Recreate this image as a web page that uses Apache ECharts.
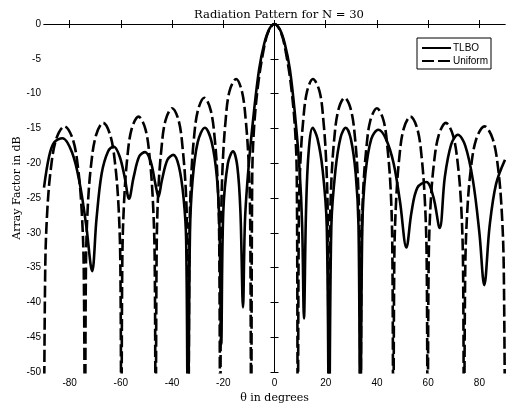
<!DOCTYPE html>
<html>
<head>
<meta charset="utf-8">
<title>Radiation Pattern for N = 30</title>
<script src="https://cdn.jsdelivr.net/npm/echarts@6/dist/echarts.min.js"></script>
<style>
  html, body { margin: 0; padding: 0; background: #fff; }
  #main { width: 506px; height: 409px; }
</style>
</head>
<body>
<div id="main"></div>
<script>
// tick labels on the theta axis
var xTicks = [-80, -60, -40, -20, 0, 20, 40, 60, 80];

// uniform array (dashed); -60 = null below the axis
var uniformTheta = [
  -90, -89.5, -88.7, -87.3, -85.2, -82, -78.8, -76.7, -75.3, -74.5,
  -74, -73.6, -72.9, -71.6, -69.7, -66.9, -64.1, -62.2, -60.9, -60.2,
  -59.8, -59.4, -58.7, -57.5, -55.8, -53.1, -50.4, -48.7, -47.5, -46.8,
  -46.4, -46.0, -45.4, -44.2, -42.6, -40.0, -37.4, -35.8, -34.6, -34.0,
  -33.6, -33.2, -32.6, -31.5, -29.9, -27.4, -24.9, -23.3, -22.2, -21.6,
  -21.2, -20.8, -20.2, -19.1, -17.6, -15, -12.7, -11.2, -10.1, -9.5,
  -9.1, -8.7, -8.0, -6.5, -4.5, -2.5, 0, 2.5, 4.5, 6.5, 8.0, 8.7,
  9.1, 9.5, 10.1, 11.2, 12.7, 15, 17.6, 19.1, 20.2, 20.8,
  21.2, 21.6, 22.2, 23.3, 24.9, 27.4, 29.9, 31.5, 32.6, 33.2,
  33.6, 34.0, 34.6, 35.8, 37.4, 40.0, 42.6, 44.2, 45.4, 46.0,
  46.4, 46.8, 47.5, 48.7, 50.4, 53.1, 55.8, 57.5, 58.7, 59.4,
  59.8, 60.2, 60.9, 62.2, 64.1, 66.9, 69.7, 71.6, 72.9, 73.6,
  74, 74.5, 75.3, 76.7, 78.8, 82, 85.2, 87.3, 88.7, 89.5, 90
];
var uniformDb = [
  -60, -34.7, -26.7, -20.7, -16.5, -14.7, -16.5, -20.7, -26.7, -34.7,
  -60, -34.2, -26.2, -20.2, -16, -14.2, -16, -20.2, -26.2, -34.2,
  -60, -33.3, -25.3, -19.3, -15.1, -13.3, -15.1, -19.3, -25.3, -33.3,
  -60, -32.1, -24.1, -18.1, -13.9, -12.1, -13.9, -18.1, -24.1, -32.1,
  -60, -30.6, -22.6, -16.6, -12.4, -10.6, -12.4, -16.6, -22.6, -30.6,
  -60, -27.9, -19.9, -13.9, -9.7, -7.9, -9.7, -13.9, -19.9, -27.9,
  -60, -22, -15, -9, -4.2, -1.2, 0, -1.2, -4.2, -9, -15, -22,
  -60, -27.9, -19.9, -13.9, -9.7, -7.9, -9.7, -13.9, -19.9, -27.9,
  -60, -30.6, -22.6, -16.6, -12.4, -10.6, -12.4, -16.6, -22.6, -30.6,
  -60, -32.1, -24.1, -18.1, -13.9, -12.1, -13.9, -18.1, -24.1, -32.1,
  -60, -33.3, -25.3, -19.3, -15.1, -13.3, -15.1, -19.3, -25.3, -33.3,
  -60, -34.2, -26.2, -20.2, -16, -14.2, -16, -20.2, -26.2, -34.2,
  -60, -34.7, -26.7, -20.7, -16.5, -14.7, -16.5, -20.7, -26.7, -34.7, -60
];

// TLBO optimised array (solid)
var tlboTheta = [
  -90, -88, -86, -82.8, -79, -76, -73.5, -71.2, -69.5, -67.5,
  -65, -62.8, -60.5, -58.5, -56.8, -55, -52.8, -50.5, -48.3, -46.5,
  -45.3, -44, -41.8, -39.5, -37.3, -35.5, -34.5, -33.8, -33, -32,
  -30, -27.2, -24.5, -22.5, -21.5, -20.8, -20, -18.2, -16.2, -14.5,
  -13.3, -12.3, -11.5, -10, -8, -6, -4, -2, 0, 2,
  4, 6, 8, 9.8, 10.8, 11.5, 12.3, 13.3, 14.9, 16.8,
  18.8, 20.4, 21.3, 22.2, 23.8, 25.8, 27.8, 29.8, 31.7, 32.8,
  33.5, 34.3, 35.5, 37.8, 40.5, 43.5, 46.5, 49, 51.5, 53.5,
  55.8, 59.3, 62, 64.5, 66.5, 69, 71.6, 74.5, 77.5, 80,
  81.9, 84, 86.5, 90
];
var tlboDb = [
  -23.5, -19, -17, -16.4, -18.5, -23, -29, -35.5, -28, -21.5,
  -18.3, -17.6, -19, -22, -25.1, -22, -19, -18.4, -19.8, -23,
  -24.8, -22.5, -19.5, -18.8, -20.5, -25, -31, -60, -30, -22.5,
  -17, -14.9, -17, -22, -29, -46, -27, -20, -18.3, -20.5,
  -27, -40.7, -28, -20, -12.5, -6.5, -2.8, -0.7, 0, -0.7,
  -2.8, -6.5, -13, -21, -29, -42.3, -27, -18.5, -14.9, -16.5,
  -21, -29, -60, -29, -21, -16.3, -14.9, -16.5, -21.5, -29,
  -60, -29, -21.5, -16.5, -15.2, -16.5, -20, -25.5, -32.1, -27,
  -23.5, -22.7, -24.8, -29.3, -22, -17.3, -15.9, -17.5, -22.5, -30,
  -37.5, -29, -23, -19.5
];

function pairs(xs, ys) {
  var out = [];
  for (var i = 0; i < xs.length; i++) out.push([xs[i], ys[i]]);
  return out;
}

var serif = "'DejaVu Serif', 'Liberation Serif', serif";
var sans = "'Liberation Sans', Arial, sans-serif";

var chart = echarts.init(document.getElementById('main'));
var option = {
  backgroundColor: '#fff',
  animation: false,
  color: ['#000', '#000'],
  title: {
    text: 'Radiation Pattern for N = 30',
    left: 274,
    top: 4,
    textAlign: 'center',
    textStyle: { fontFamily: serif, fontSize: 11.6, fontWeight: 'normal', color: '#000' }
  },
  legend: {
    left: 417,
    top: 38,
    orient: 'vertical',
    data: ['TLBO', 'Uniform'],
    padding: [4, 3, 2, 4],
    itemGap: 1,
    itemWidth: 29,
    itemHeight: 12,
    borderColor: '#000',
    borderWidth: 1,
    borderRadius: 0,
    backgroundColor: '#fff',
    itemStyle: { opacity: 0 },
    textStyle: { fontFamily: sans, fontSize: 10, color: '#000', lineHeight: 12, padding: [0, 0, 0, -3] }
  },
  grid: { left: 44, right: 1, top: 24, bottom: 36 },
  xAxis: [{
    type: 'value',
    min: -90,
    max: 90,
    position: 'bottom',
    splitLine: { show: false },
    axisLine: { lineStyle: { color: '#000', width: 1 } },
    axisTick: { inside: true, length: 4, customValues: xTicks, lineStyle: { color: '#000' } },
    axisLabel: { customValues: xTicks, color: '#000', fontFamily: sans, fontSize: 10, margin: 6 },
    name: 'θ in degrees',
    nameLocation: 'middle',
    nameGap: 18,
    nameTextStyle: { fontFamily: serif, fontSize: 11, color: '#000' }
  }, {
    type: 'value',
    min: -90,
    max: 90,
    position: 'top',
    splitLine: { show: false },
    axisLine: { lineStyle: { color: '#000', width: 1 } },
    axisTick: { inside: true, length: 4, customValues: xTicks, lineStyle: { color: '#000' } },
    axisLabel: { show: false }
  }],
  yAxis: [{
    type: 'value',
    min: -50,
    max: 0,
    interval: 5,
    position: 'left',
    splitLine: { show: false },
    axisLine: { show: true, lineStyle: { color: '#000', width: 1 } },
    axisTick: { show: true, inside: true, length: 4, lineStyle: { color: '#000' } },
    axisLabel: { color: '#000', fontFamily: sans, fontSize: 10, margin: 3 }
  }, {
    type: 'value',
    min: -50,
    max: 0,
    interval: 5,
    position: 'right',
    splitLine: { show: false },
    axisLine: { show: true, lineStyle: { color: '#000', width: 1 } },
    axisTick: { show: true, inside: true, length: 4, lineStyle: { color: '#000' } },
    axisLabel: { show: false }
  }],
  graphic: [{
    type: 'text',
    x: 17,
    y: 188,
    rotation: Math.PI / 2,
    style: {
      text: 'Array Factor in dB',
      fill: '#000',
      font: '11px ' + serif,
      textAlign: 'center',
      textVerticalAlign: 'middle'
    }
  }],
  series: [{
    name: 'TLBO',
    type: 'line',
    xAxisIndex: 0,
    yAxisIndex: 0,
    data: pairs(tlboTheta, tlboDb),
    symbol: 'none',
    smooth: 0.35,
    clip: true,
    itemStyle: { color: '#000' },
    lineStyle: { color: '#000', width: 2.6, type: 'solid' },
    z: 3
  }, {
    name: 'Uniform',
    type: 'line',
    xAxisIndex: 0,
    yAxisIndex: 0,
    data: pairs(uniformTheta, uniformDb),
    symbol: 'none',
    smooth: 0.35,
    clip: true,
    itemStyle: { color: '#000' },
    lineStyle: { color: '#000', width: 2.6, type: [12, 4] },
    z: 2
  }]
};
chart.setOption(option);
</script>
</body>
</html>
